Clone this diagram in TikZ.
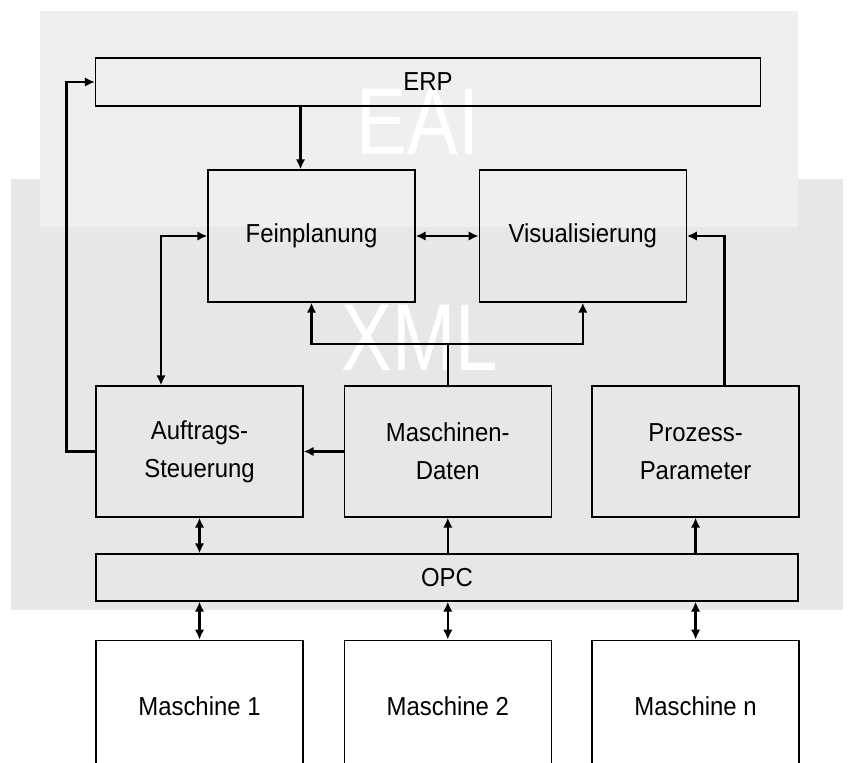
\documentclass[tikz,border=0pt]{standalone}
\usepackage{fontspec}
\setmainfont{Liberation Sans}[FakeStretch=0.92]
\newfontfamily\wmfont{Liberation Sans}[FakeStretch=0.8]
\usepackage{tikz}
\usetikzlibrary{arrows.meta,positioning}
\definecolor{eaibg}{HTML}{EFEFEF}
\definecolor{xmlbg}{HTML}{E7E7E7}

\begin{document}
\begin{tikzpicture}[x=1pt, y=-1pt, font=\fontsize{26}{38}\selectfont,
    box/.style={draw, line width=1.3pt, minimum width=207pt, minimum height=131pt, align=center, inner sep=2pt},
    bar/.style={box, minimum height=47pt},
    machbox/.style={box, fill=white},
    watermark/.style={text=white, font=\wmfont\fontsize{95}{95}\selectfont, inner sep=0pt},
    tip/.style={Latex[length=10pt, width=9.5pt]},
    flow/.style={-{Latex[length=10pt, width=9.5pt]}, line width=2.6pt},
    both/.style={flow, {Latex[length=10pt, width=9.5pt]}-{Latex[length=10pt, width=9.5pt]}}]
  \clip (0,0) rectangle (855,763);
  % background layers
  \fill[xmlbg] (11,179) rectangle (843,610);
  \fill[eaibg] (40,11) rectangle (798,227);
  \node[watermark] (eai) at (418,122) {EAI};
  \node[watermark] (xml) at (420,338) {XML};
  % nodes
  \node[bar, minimum width=665pt, minimum height=48pt] (erp) at (428,82) {ERP};
  \node[box, minimum height=132pt] (fein) at (311.5,236) {Feinplanung};
  \node[box, minimum height=132pt, right=63pt of fein] (vis) {Visualisierung};
  \node[box] (auftrag) at (199.5,451.5) {Auftrags-\\Steuerung};
  \node[box, right=40pt of auftrag] (mdaten) {Maschinen-\\Daten};
  \node[box, right=39.5pt of mdaten] (prozess) {Prozess-\\Parameter};
  \node[bar, minimum width=702pt] (opc) at (447,577.5) {OPC};
  \node[machbox, below=122pt of auftrag] (m1) {Maschine 1};
  \node[machbox, below=122pt of mdaten] (m2) {Maschine 2};
  \node[machbox, below=122pt of prozess] (mn) {Maschine n};
  \coordinate (xmlbus) at (mdaten.north |- 0,344);
  % connectors
  \draw[flow] ([xshift=-11pt]fein.north |- erp.south) -- ([xshift=-11pt]fein.north);
  \draw[both] (fein) -- (vis);
  \draw[both] (fein.west) -| ([xshift=-38.5pt]auftrag.north);
  \draw[flow] ([xshift=29pt]prozess.north) |- (vis.east);
  \draw[flow] (mdaten.north) -- (xmlbus) -| (fein.south);
  \draw[flow] (xmlbus) -| (vis.south);
  \draw[flow] (mdaten.west) -- (auftrag.east);
  \draw[flow] (auftrag.west) -- ++(-29,0) |- (erp.west);
  \draw[both] (auftrag.south) -- (auftrag.south |- opc.north);
  \draw[flow] (mdaten.south |- opc.north) -- (mdaten.south);
  \draw[flow] (prozess.south |- opc.north) -- (prozess.south);
  \draw[both] (opc.south -| m1.north) -- (m1.north);
  \draw[both] (opc.south -| m2.north) -- (m2.north);
  \draw[both] (opc.south -| mn.north) -- (mn.north);
\end{tikzpicture}
\end{document}
